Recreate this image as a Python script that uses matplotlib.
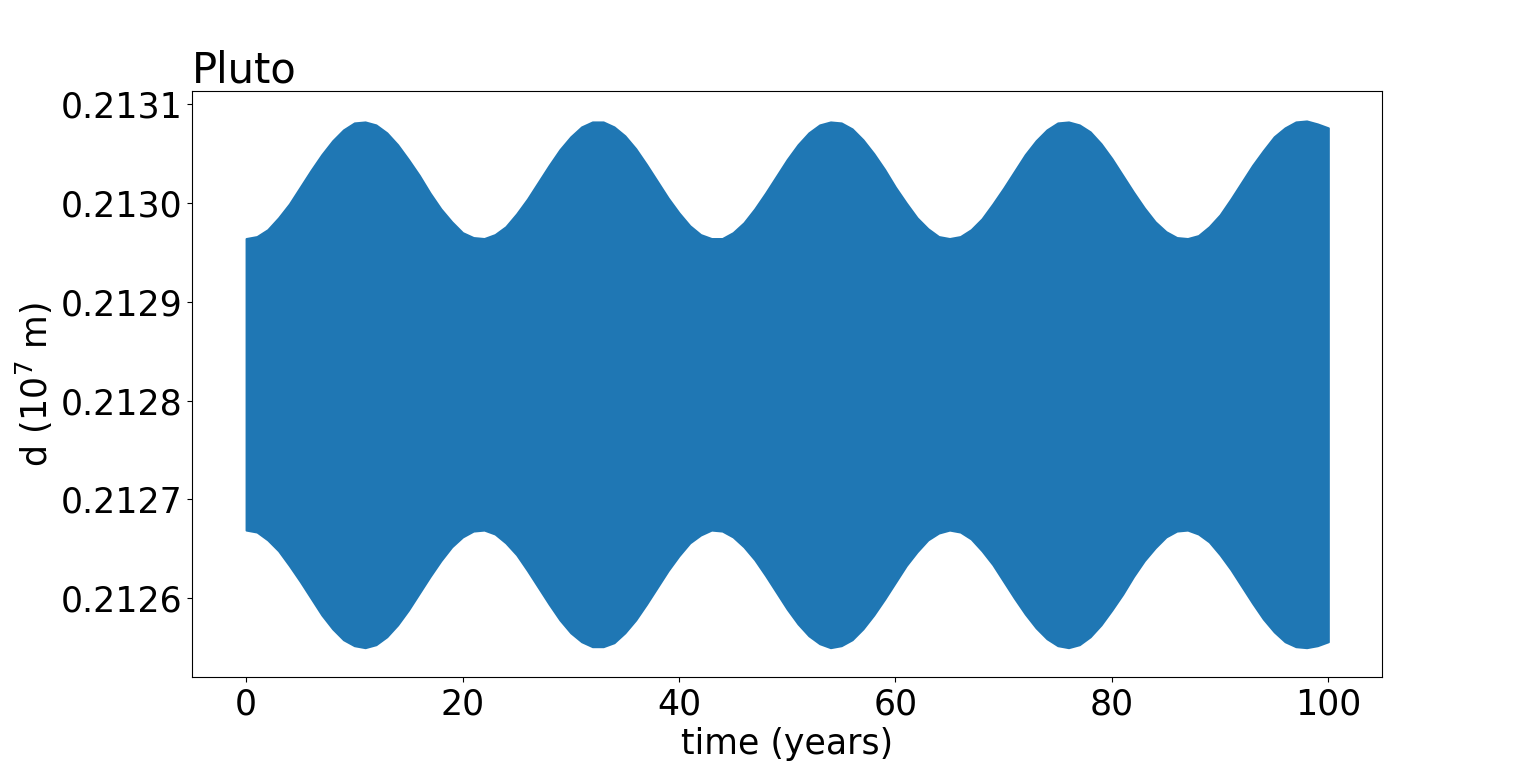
import matplotlib.pyplot as plt

# envelope of the fast oscillation, units of 1e7 m
years = list(range(0, 101))
upper = [
    0.212964, 0.212966, 0.212973, 0.212985, 0.212999, 0.213016, 0.213033, 0.213049, 0.213063, 0.213074,
    0.213081, 0.213082, 0.213079, 0.213071, 0.213059, 0.213044, 0.213028, 0.213010, 0.212994, 0.212981,
    0.212970, 0.212965, 0.212964, 0.212968, 0.212976, 0.212989, 0.213004, 0.213021, 0.213038, 0.213054,
    0.213067, 0.213077, 0.213082, 0.213082, 0.213077, 0.213068, 0.213055, 0.213039, 0.213022, 0.213005,
    0.212990, 0.212977, 0.212968, 0.212964, 0.212964, 0.212970, 0.212980, 0.212994, 0.213010, 0.213027,
    0.213044, 0.213059, 0.213071, 0.213079, 0.213082, 0.213081, 0.213075, 0.213064, 0.213050, 0.213034,
    0.213016, 0.213000, 0.212985, 0.212974, 0.212966, 0.212964, 0.212966, 0.212973, 0.212984, 0.212999,
    0.213015, 0.213032, 0.213049, 0.213063, 0.213074, 0.213081, 0.213082, 0.213079, 0.213072, 0.213060,
    0.213045, 0.213028, 0.213011, 0.212995, 0.212981, 0.212971, 0.212965, 0.212964, 0.212967, 0.212976,
    0.212988, 0.213004, 0.213021, 0.213038, 0.213053, 0.213067, 0.213076, 0.213082, 0.213083, 0.213080,
    0.213076,
]
lower = [
    0.212669, 0.212667, 0.212659, 0.212648, 0.212633, 0.212617, 0.212600, 0.212583, 0.212569, 0.212558,
    0.212552, 0.212550, 0.212553, 0.212561, 0.212573, 0.212588, 0.212605, 0.212622, 0.212638, 0.212652,
    0.212662, 0.212668, 0.212669, 0.212665, 0.212656, 0.212644, 0.212628, 0.212611, 0.212594, 0.212578,
    0.212565, 0.212556, 0.212551, 0.212551, 0.212555, 0.212565, 0.212578, 0.212594, 0.212611, 0.212628,
    0.212643, 0.212656, 0.212664, 0.212669, 0.212668, 0.212662, 0.212652, 0.212639, 0.212623, 0.212606,
    0.212589, 0.212574, 0.212562, 0.212554, 0.212550, 0.212552, 0.212558, 0.212569, 0.212583, 0.212599,
    0.212616, 0.212633, 0.212647, 0.212659, 0.212666, 0.212669, 0.212667, 0.212660, 0.212648, 0.212634,
    0.212617, 0.212600, 0.212584, 0.212570, 0.212559, 0.212552, 0.212550, 0.212553, 0.212561, 0.212573,
    0.212588, 0.212604, 0.212622, 0.212638, 0.212651, 0.212662, 0.212668, 0.212669, 0.212665, 0.212657,
    0.212644, 0.212629, 0.212612, 0.212595, 0.212579, 0.212566, 0.212556, 0.212551, 0.212550, 0.212552,
    0.212556,
]

fig, ax = plt.subplots(figsize=(15.36, 7.61), dpi=100)
fig.subplots_adjust(left=0.125, right=0.9, bottom=0.11, top=0.88)

ax.fill_between(years, lower, upper, color="#1f77b4", edgecolor="#1f77b4", linewidth=1.5)
ax.set_xlim(-5, 105)
ax.set_ylim(0.212520, 0.213113)
ax.set_yticks([0.2126, 0.2127, 0.2128, 0.2129, 0.2130, 0.2131])
ax.set_xticks([0, 20, 40, 60, 80, 100])
ax.tick_params(labelsize=25)
ax.set_xlabel("time (years)", fontsize=25)
ax.set_ylabel(r"d ($10^7$ m)", fontsize=25)
ax.set_title("Pluto", loc="left", fontsize=30)

fig.savefig("out.png")
